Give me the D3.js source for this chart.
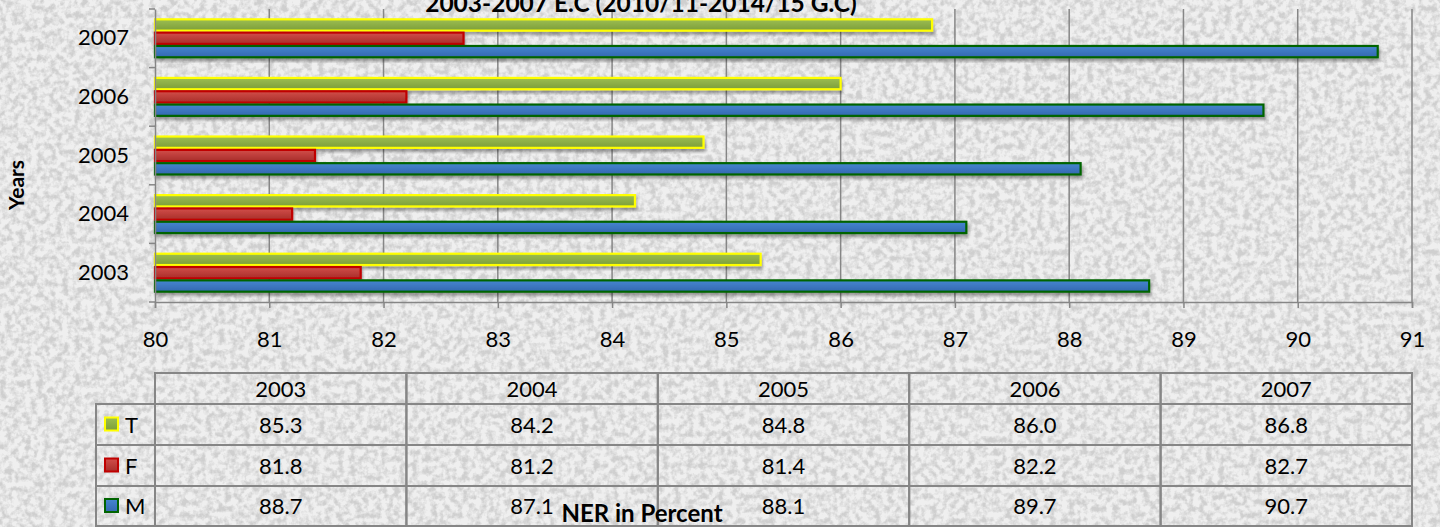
<!DOCTYPE html>
<html>
<head>
<meta charset="utf-8">
<script src="https://cdn.jsdelivr.net/npm/d3@7"></script>
<style>
  html, body { margin: 0; padding: 0; background: #eeeeee; }
  svg { display: block; font-family: Lato, "Open Sans", sans-serif; }
</style>
</head>
<body>
<svg id="chart"></svg>
<script>
const years = ["2003", "2004", "2005", "2006", "2007"];
const seriesNames = ["T", "F", "M"];
const valuesT = [85.3, 84.2, 84.8, 86.0, 86.8];
const valuesF = [81.8, 81.2, 81.4, 82.2, 82.7];
const valuesM = [88.7, 87.1, 88.1, 89.7, 90.7];
const xTicks = [80, 81, 82, 83, 84, 85, 86, 87, 88, 89, 90, 91];
const title = "2003-2007 E.C (2010/11-2014/15 G.C)";

const W = 1440, H = 527;
const plot = { left: 155, right: 1412, top: 9, bottom: 302 };

const svg = d3.select("#chart").attr("width", W).attr("height", H);
const defs = svg.append("defs");

// paper texture: light base with soft gray mottling
const tex = defs.append("filter").attr("id", "paper")
    .attr("x", 0).attr("y", 0).attr("width", "100%").attr("height", "100%");
tex.append("feTurbulence").attr("type", "fractalNoise").attr("baseFrequency", 0.16)
    .attr("numOctaves", 3).attr("seed", 7);
tex.append("feColorMatrix").attr("type", "matrix")
    .attr("values", "0 0 0 0 0  0 0 0 0 0  0 0 0 0 0  0 0 0 3 -1.15");
svg.append("rect").attr("width", W).attr("height", H).attr("fill", "#efefef");
svg.append("rect").attr("width", W).attr("height", H).attr("fill", "#000")
    .attr("filter", "url(#paper)").attr("opacity", 0.13);

// bar styles
const style = {
  T: { top: "#9cbe52", bottom: "#7c9e3a", stroke: "#ffff00" },
  F: { top: "#d24e4a", bottom: "#a82e2a", stroke: "#c00000" },
  M: { top: "#4686d0", bottom: "#3368b0", stroke: "#006400" }
};
seriesNames.forEach(s => {
  const g = defs.append("linearGradient").attr("id", "grad" + s)
      .attr("x1", 0).attr("y1", 0).attr("x2", 0).attr("y2", 1);
  g.append("stop").attr("offset", "0%").attr("stop-color", style[s].top);
  g.append("stop").attr("offset", "100%").attr("stop-color", style[s].bottom);
});
const sh = defs.append("filter").attr("id", "shadow")
    .attr("x", "-5%").attr("y", "-30%").attr("width", "110%").attr("height", "180%");
sh.append("feDropShadow").attr("dx", 1).attr("dy", 3).attr("stdDeviation", 1.5)
    .attr("flood-color", "#000").attr("flood-opacity", 0.35);

// scales
const x = d3.scaleLinear().domain([80, 91]).range([plot.left, plot.right]);
const y0 = d3.scaleBand().domain(years.slice().reverse()).range([plot.top, plot.bottom])
    .paddingInner(0).paddingOuter(0);
const y1 = d3.scaleBand().domain(seriesNames).range([0, y0.bandwidth()])
    .paddingInner(0).paddingOuter(0.7);

const data = years.map((yr, i) => ({ year: yr, T: valuesT[i], F: valuesF[i], M: valuesM[i] }));

// gridlines
svg.append("g").selectAll("line").data(xTicks.slice(1)).enter().append("line")
    .attr("x1", d => x(d)).attr("x2", d => x(d))
    .attr("y1", plot.top).attr("y2", plot.bottom)
    .attr("stroke", "#868686").attr("stroke-width", 1.5);

// bars
const groups = svg.append("g").selectAll("g").data(data).enter().append("g")
    .attr("transform", d => `translate(0,${y0(d.year)})`);
groups.selectAll("rect").data(d => seriesNames.map(s => ({ s, v: d[s] }))).enter().append("rect")
    .attr("x", x(80))
    .attr("y", d => y1(d.s) + 1)
    .attr("width", d => x(d.v) - x(80))
    .attr("height", y1.bandwidth() - 2)
    .attr("fill", d => `url(#grad${d.s})`)
    .attr("stroke", d => style[d.s].stroke)
    .attr("stroke-width", 2.2)
    .attr("filter", "url(#shadow)");

// x axis
const xAxis = svg.append("g").attr("transform", `translate(0,${plot.bottom})`)
    .call(d3.axisBottom(x).tickValues(xTicks).tickSize(6).tickPadding(23));
xAxis.select(".domain").attr("stroke", "#868686").attr("stroke-width", 1.5);
xAxis.selectAll(".tick line").attr("stroke", "#868686").attr("stroke-width", 1.5);
xAxis.selectAll(".tick text").attr("font-size", 22).attr("fill", "#000")
    .attr("font-family", "Lato, sans-serif");

// y axis
const yAxis = svg.append("g").attr("transform", `translate(${plot.left},0)`)
    .call(d3.axisLeft(y0).tickSize(0).tickPadding(26));
yAxis.select(".domain").attr("stroke", "#868686").attr("stroke-width", 1.5);
yAxis.selectAll(".tick text").attr("font-size", 22).attr("fill", "#000")
    .attr("font-family", "Lato, sans-serif");
// category separator ticks
svg.append("g").selectAll("line").data(years.concat(["end"])).enter().append("line")
    .attr("x1", plot.left - 6).attr("x2", plot.left)
    .attr("y1", (d, i) => i < years.length ? y0(d) : plot.bottom)
    .attr("y2", (d, i) => i < years.length ? y0(d) : plot.bottom)
    .attr("stroke", "#868686").attr("stroke-width", 1.5);

// title (clipped at top, as in the source)
svg.append("text").attr("x", 641).attr("y", 12).attr("text-anchor", "middle")
    .attr("font-size", 24.5).attr("font-weight", "bold").attr("fill", "#000")
    .text(title);

// y axis title
svg.append("text").attr("transform", "translate(24,185) rotate(-90)")
    .attr("text-anchor", "middle").attr("font-size", 21).attr("font-weight", "bold")
    .text("Years");

// data table
const tbl = svg.append("g");
const colX = d3.scaleBand().domain(years).range([plot.left, plot.right]);
const rowEdges = [373, 404, 445, 486, 526];
const legendLeft = 96;
const gridStroke = "#868686";
// header
tbl.selectAll(".hdr").data(years).enter().append("rect")
    .attr("x", d => colX(d)).attr("y", rowEdges[0])
    .attr("width", colX.bandwidth()).attr("height", rowEdges[1] - rowEdges[0])
    .attr("fill", "none").attr("stroke", gridStroke).attr("stroke-width", 2);
tbl.selectAll(".hdrText").data(years).enter().append("text")
    .attr("x", d => colX(d) + colX.bandwidth() / 2)
    .attr("y", (rowEdges[0] + rowEdges[1]) / 2 + 8)
    .attr("text-anchor", "middle").attr("font-size", 22).text(d => d);
const rowVals = { T: valuesT, F: valuesF, M: valuesM };
seriesNames.forEach((s, r) => {
  const top = rowEdges[r + 1], bot = rowEdges[r + 2], mid = (top + bot) / 2;
  tbl.append("rect").attr("x", legendLeft).attr("y", top)
      .attr("width", plot.left - legendLeft).attr("height", bot - top)
      .attr("fill", "none").attr("stroke", gridStroke).attr("stroke-width", 2);
  tbl.append("rect").attr("x", 105).attr("y", mid - 7).attr("width", 13).attr("height", 13)
      .attr("fill", `url(#grad${s})`).attr("stroke", style[s].stroke).attr("stroke-width", 2);
  tbl.append("text").attr("x", 125).attr("y", mid + 8).attr("font-size", 22).text(s);
  years.forEach((yr, i) => {
    tbl.append("rect").attr("x", colX(yr)).attr("y", top)
        .attr("width", colX.bandwidth()).attr("height", bot - top)
        .attr("fill", "none").attr("stroke", gridStroke).attr("stroke-width", 2);
    tbl.append("text").attr("x", colX(yr) + colX.bandwidth() / 2).attr("y", mid + 8)
        .attr("text-anchor", "middle").attr("font-size", 22)
        .text(d3.format(".1f")(rowVals[s][i]));
  });
});

// x axis title (overlaps table)
svg.append("text").attr("x", 642).attr("y", 522).attr("text-anchor", "middle")
    .attr("font-size", 24).attr("font-weight", "bold").text("NER in Percent");
</script>
</body>
</html>
